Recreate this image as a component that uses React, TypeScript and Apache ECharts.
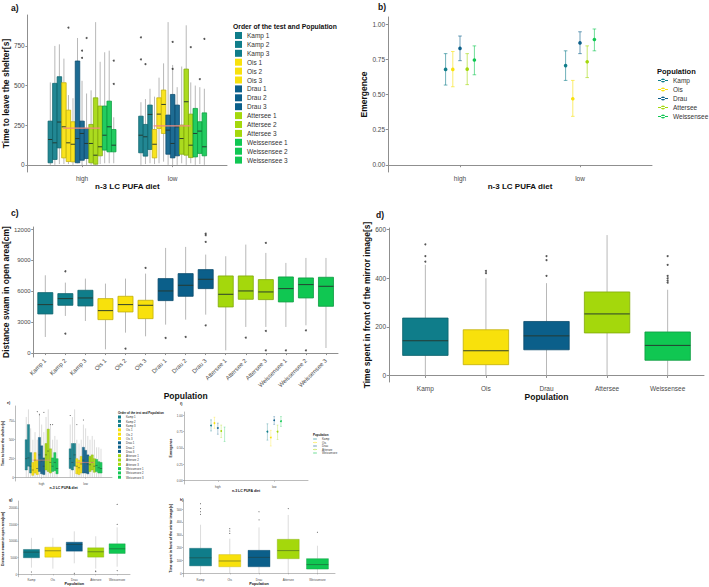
import React, { useEffect, useRef } from "react";
import * as echarts from "echarts";

const POPULATIONS = ["Kamp", "Ois", "Drau", "Attersee", "Weissensee"];
const POP_COLORS = ["#0f7d8a", "#f8e10c", "#0b5f8a", "#a4d80c", "#10c752"];
const GROUPS = [
  "Kamp 1", "Kamp 2", "Kamp 3", "Ois 1", "Ois 2", "Ois 3", "Drau 1", "Drau 2", "Drau 3",
  "Attersee 1", "Attersee 2", "Attersee 3", "Weissensee 1", "Weissensee 2", "Weissensee 3",
];
const DIETS = ["high", "low"];

// a) time to leave shelter [lo, q1, median, q3, hi]
const shelterHigh = [
  [0, 13, 160, 276, 520], [0, 34, 139, 514, 750], [5, 107, 270, 556, 760],
  [5, 44, 240, 518, 670], [5, 21, 139, 345, 440], [0, 19, 130, 272, 420],
  [10, 13, 166, 655, 800], [0, 29, 198, 276, 530], [0, 40, 135, 230, 450],
  [0, 13, 135, 255, 470], [0, 4, 61, 423, 900], [5, 57, 114, 371, 650],
  [10, 93, 187, 371, 710], [10, 82, 240, 402, 720], [10, 82, 124, 223, 300],
];
const shelterLow = [
  [0, 76, 187, 307, 395], [5, 55, 177, 255, 415], [10, 97, 318, 377, 480],
  [5, 44, 130, 223, 430], [10, 229, 320, 423, 550], [20, 198, 381, 472, 640],
  [0, 67, 219, 314, 900], [0, 44, 135, 444, 630], [0, 57, 240, 377, 490],
  [10, 67, 166, 251, 620], [0, 61, 398, 604, 880], [10, 46, 124, 320, 520],
  [0, 50, 198, 356, 500], [5, 72, 213, 272, 490], [0, 57, 114, 328, 480],
];
const shelterOutHigh = [[4, 865], [7, 720], [7, 675], [8, 800], [14, 657], [14, 510]];
const shelterOutLow = [[0, 804], [0, 665], [1, 635], [7, 775], [7, 605], [11, 742], [13, 541], [14, 794]];
const shelterMean = [232, 246];

// b) emergence [mean, lo, hi]
const emergenceHigh = [[0.678, 0.567, 0.79], [0.678, 0.555, 0.805], [0.827, 0.74, 0.915], [0.68, 0.57, 0.79], [0.745, 0.64, 0.845]];
const emergenceLow = [[0.705, 0.6, 0.81], [0.47, 0.345, 0.6], [0.866, 0.79, 0.945], [0.732, 0.62, 0.845], [0.89, 0.81, 0.965]];

// c) distance swam in open area
const distance = [
  [1557, 3794, 4703, 5870, 7556], [3600, 4638, 5286, 5773, 6843], [3113, 4573, 5351, 6097, 7232],
  [357, 3243, 4119, 5286, 6745], [1978, 3989, 4703, 5513, 7232], [1621, 3340, 4638, 5124, 7718],
  [2757, 5092, 6032, 7232, 10215], [3243, 5513, 6583, 7718, 10313], [3730, 6259, 7167, 8108, 9567],
  [259, 4475, 5708, 7491, 9405], [2530, 5221, 6032, 7491, 10540], [2530, 5189, 5935, 7135, 9729],
  [2530, 4962, 6259, 7394, 8756], [2692, 5351, 6648, 7297, 9243], [486, 4540, 6486, 7362, 9243],
];
const distanceOut = [[1, 7946], [1, 1881], [4, 421], [5, 8270], [6, 1459], [7, 1557], [8, 2692], [8, 10800], [8, 11450], [8, 11610],
  [10, 1492], [11, 10702], [11, 2140], [11, 259], [12, 259], [13, 2205], [13, 259]];

// d) time in front of mirror
const mirror = [[0, 83, 143, 236, 454], [0, 45, 102, 188, 399], [0, 106, 163, 222, 379], [0, 175, 253, 343, 576], [0, 63, 124, 179, 352]];
const mirrorOut = [[0, 538], [0, 490], [0, 467], [1, 429], [1, 420], [2, 490], [2, 473], [2, 409], [4, 490], [4, 454], [4, 409], [4, 399], [4, 389], [4, 381]];

// e) second trial shelter
const shelter2High = [
  [0, 100, 250, 500, 800], [0, 150, 260, 700, 900], [0, 60, 150, 330, 650],
  [0, 30, 100, 200, 500], [0, 60, 230, 330, 600], [0, 40, 120, 230, 500],
  [0, 80, 300, 530, 850], [0, 50, 220, 420, 700], [0, 40, 150, 260, 600],
  [0, 100, 300, 450, 800], [0, 80, 350, 640, 900], [0, 60, 200, 380, 700],
  [0, 80, 150, 260, 500], [0, 90, 200, 330, 550], [0, 50, 120, 250, 500],
];
const shelter2Low = [
  [0, 120, 250, 380, 700], [0, 100, 200, 450, 800], [0, 150, 300, 450, 900],
  [0, 50, 150, 250, 500], [0, 40, 130, 230, 450], [0, 60, 180, 280, 500],
  [0, 60, 230, 400, 700], [0, 60, 200, 360, 650], [0, 50, 180, 300, 550],
  [0, 80, 170, 280, 500], [0, 100, 200, 300, 550], [0, 70, 150, 250, 500],
  [0, 80, 160, 240, 400], [0, 60, 130, 210, 400], [0, 60, 120, 200, 380],
];
const shelter2OutHigh = [[5, 870], [6, 830], [8, 860], [11, 700], [12, 700]];
const shelter2OutLow = [[0, 820], [3, 700], [6, 760]];
const shelter2Mean = [230, 200];

// f) second trial emergence
const emergence2High = [[0.845, 0.76, 0.93], [0.88, 0.8, 0.97], [0.805, 0.71, 0.88], [0.76, 0.66, 0.85], [0.71, 0.6, 0.82]];
const emergence2Low = [[0.75, 0.62, 0.87], [0.66, 0.53, 0.77], [0.925, 0.86, 0.98], [0.75, 0.63, 0.85], [0.91, 0.83, 0.98]];

// g) distance second trial
const distance2 = [[2000, 4985, 6657, 7463, 10955], [1700, 5164, 7075, 8150, 10955], [3300, 6955, 8955, 9642, 12925], [1700, 5164, 6776, 7960, 11433], [2290, 6269, 7672, 9164, 14119]];
const distance2Out = [[0, 687], [2, 300], [3, 800], [3, 1000], [4, 15000], [4, 21000], [4, 1100]];

// h) mirror second trial
const mirror2 = [[0, 58, 121, 195, 379], [0, 51, 96, 146, 270], [0, 51, 124, 179, 358], [0, 114, 177, 265, 455], [0, 33, 68, 114, 215]];
const mirror2Out = [[0, 460], [0, 480], [0, 505], [0, 543], [1, 311], [1, 330], [1, 348], [2, 417], [2, 480], [3, 505], [4, 320]];

const WHISKER = "#a6a6a6";
const MEDIAN = "#26382f";
const AXIS = "#8f8f8f";
const FONT = "Liberation Sans, Arial, sans-serif";

function darken(hex: string, f = 0.78) {
  const n = parseInt((hex || "#888888").slice(1), 16);
  const r = Math.round(((n >> 16) & 255) * f);
  const g = Math.round(((n >> 8) & 255) * f);
  const b = Math.round((n & 255) * f);
  return `rgb(${r},${g},${b})`;
}

const popOf = (i: number) => Math.floor(i / 3);
const dodge = (i: number, n: number, total: number) => -total / 2 + (total / n) * (i + 0.5);

const BOX_DIMS = ["x", "lo", "q1", "med", "q3", "hi", "c"];
const ERR_DIMS = ["x", "m", "lo", "hi"];

function boxRenderer(width: number, lw: number, opacity = 1) {
  return (_p: any, api: any) => {
    const x = api.value(0);
    const ci = Math.round(api.value(6));
    const fill = POP_COLORS[ci] || "#888888";
    const pLo = api.coord([x, api.value(1)]);
    const pQ1 = api.coord([x, api.value(2)]);
    const pMed = api.coord([x, api.value(3)]);
    const pQ3 = api.coord([x, api.value(4)]);
    const pHi = api.coord([x, api.value(5)]);
    const half = api.size([width, 0])[0] / 2;
    return {
      type: "group",
      children: [
        { type: "line", shape: { x1: pHi[0], y1: pHi[1], x2: pQ3[0], y2: pQ3[1] }, style: { stroke: WHISKER, lineWidth: lw } },
        { type: "line", shape: { x1: pQ1[0], y1: pQ1[1], x2: pLo[0], y2: pLo[1] }, style: { stroke: WHISKER, lineWidth: lw } },
        { type: "rect", shape: { x: pQ3[0] - half, y: pQ3[1], width: half * 2, height: pQ1[1] - pQ3[1] }, style: { fill, stroke: darken(fill), lineWidth: lw, opacity } },
        { type: "line", shape: { x1: pMed[0] - half, y1: pMed[1], x2: pMed[0] + half, y2: pMed[1] }, style: { stroke: MEDIAN, lineWidth: lw * 1.2 } },
      ],
    };
  };
}

function errRenderer(color: string, cap: number, r: number, lw: number) {
  return (_p: any, api: any) => {
    const x = api.value(0);
    const pm = api.coord([x, api.value(1)]);
    const pl = api.coord([x, api.value(2)]);
    const ph = api.coord([x, api.value(3)]);
    const st = { stroke: color, lineWidth: lw, opacity: 0.6 };
    return {
      type: "group",
      children: [
        { type: "line", shape: { x1: pl[0], y1: pl[1], x2: ph[0], y2: ph[1] }, style: st },
        { type: "line", shape: { x1: pl[0] - cap, y1: pl[1], x2: pl[0] + cap, y2: pl[1] }, style: st },
        { type: "line", shape: { x1: ph[0] - cap, y1: ph[1], x2: ph[0] + cap, y2: ph[1] }, style: st },
        { type: "circle", shape: { cx: pm[0], cy: pm[1], r }, style: { fill: color } },
      ],
    };
  };
}

function xCat(grid: number, cats: string[], fs: number, name: string, nameFs: number, nameGap: number, rotate = 0, lw = 1) {
  const vals = cats.map((_, i) => i + 1);
  return {
    gridIndex: grid, type: "value", min: 0.4, max: cats.length + 0.6,
    axisLine: { show: true, lineStyle: { color: AXIS, width: lw } },
    axisTick: { show: true, length: fs * 0.35, customValues: vals, lineStyle: { color: AXIS, width: lw } },
    axisLabel: { customValues: vals, formatter: (v: number) => cats[Math.round(v) - 1] ?? "", fontSize: fs, color: "#4a4a4a", margin: fs * 0.45, rotate },
    splitLine: { show: false },
    name, nameLocation: "middle", nameGap,
    nameTextStyle: { fontSize: nameFs, fontWeight: "bold", color: "#111" },
  };
}

function yVal(grid: number, min: number, max: number, ticks: number[], fs: number, name: string, nameFs: number, nameGap: number, dec = 0, lw = 1) {
  return {
    gridIndex: grid, type: "value", min, max,
    axisLine: { show: true, lineStyle: { color: AXIS, width: lw } },
    axisTick: { show: true, length: fs * 0.35, customValues: ticks, lineStyle: { color: AXIS, width: lw } },
    axisLabel: { customValues: ticks, formatter: (v: number) => v.toFixed(dec), fontSize: fs, color: "#4a4a4a", margin: fs * 0.45 },
    splitLine: { show: false },
    name, nameLocation: "middle", nameGap,
    nameTextStyle: { fontSize: nameFs, fontWeight: "bold", color: "#111" },
  };
}

const ENC = { x: 0, y: [1, 2, 3, 4, 5] };

function shelterSeries(axis: number, high: number[][], low: number[][], lw: number) {
  return GROUPS.map((g, i) => ({
    type: "custom", name: g, xAxisIndex: axis, yAxisIndex: axis,
    itemStyle: { color: POP_COLORS[popOf(i)] },
    dimensions: BOX_DIMS,
    renderItem: boxRenderer(0.05, lw, 0.92), encode: ENC,
    data: [
      [1 + dodge(i, 15, 0.75), ...high[i], popOf(i)],
      [2 + dodge(i, 15, 0.75), ...low[i], popOf(i)],
    ],
  }));
}

function outlierSeries(axis: number, pts: number[][], xOf: (g: number) => number, size: number) {
  return {
    type: "scatter", xAxisIndex: axis, yAxisIndex: axis, symbolSize: size, silent: true,
    itemStyle: { color: "#2b2b2b" },
    data: pts.map(([g, v]) => [xOf(g), v]),
  };
}

function meanSeries(axis: number, means: number[], lw: number) {
  return means.map((m, d) => ({
    type: "line", xAxisIndex: axis, yAxisIndex: axis, symbol: "none", silent: true,
    lineStyle: { color: "#f08c80", width: lw },
    data: [[d + 1 - 0.21, m], [d + 1 + 0.2, m]],
  }));
}

function emergenceSeries(axis: number, high: number[][], low: number[][], cap: number, r: number, lw: number) {
  return POPULATIONS.map((p, k) => ({
    type: "custom", name: p, xAxisIndex: axis, yAxisIndex: axis,
    itemStyle: { color: POP_COLORS[k] },
    dimensions: ERR_DIMS,
    renderItem: errRenderer(POP_COLORS[k], cap, r, lw), encode: { x: 0, y: [1, 2, 3] },
    data: [
      [1 + dodge(k, 5, 0.3), ...high[k]],
      [2 + dodge(k, 5, 0.3), ...low[k]],
    ],
  }));
}

function popBoxSeries(axis: number, vals: number[][], lw: number, colorOf: (i: number) => number) {
  return {
    type: "custom", xAxisIndex: axis, yAxisIndex: axis,
    dimensions: BOX_DIMS,
    renderItem: boxRenderer(0.75, lw), encode: ENC,
    data: vals.map((v, i) => [i + 1, ...v, colorOf(i)]),
  };
}

const PR_ICON = "path://M0,4.4h12v1.2h-12z M3.5,5a2.5,2.5 0 1,0 5,0a2.5,2.5 0 1,0 -5,0z";

function txt(x: number, y: number, text: string, fs: number, bold = true) {
  return { type: "text", x, y, silent: true, style: { text, fontSize: fs, fontWeight: bold ? "bold" : "normal", fill: "#111", fontFamily: FONT, verticalAlign: "middle", align: "left" } };
}

export default function App() {
  const ref = useRef<HTMLDivElement>(null);
  useEffect(() => {
    if (!ref.current) return;
    const chart = echarts.init(ref.current, undefined, { renderer: "svg" });
    const ident = (i: number) => i;
    const option: any = {
      animation: false,
      backgroundColor: "#ffffff",
      textStyle: { fontFamily: FONT },
      grid: [
        { left: 25, top: 15, width: 202, height: 157 },
        { left: 388, top: 17, width: 264, height: 155 },
        { left: 29, top: 227, width: 309, height: 130 },
        { left: 389, top: 228, width: 315, height: 154 },
        { left: 13, top: 406, width: 99, height: 75 },
        { left: 184, top: 412, width: 124, height: 72 },
        { left: 17, top: 501, width: 113, height: 77 },
        { left: 183, top: 500, width: 152, height: 79 },
      ],
      xAxis: [
        xCat(0, DIETS, 6.5, "n-3 LC PUFA diet", 8, 7),
        xCat(1, DIETS, 6.5, "n-3 LC PUFA diet", 8, 7),
        xCat(2, GROUPS, 6, "Population", 8.5, 32, 45),
        xCat(3, POPULATIONS, 6.5, "Population", 8.5, 9),
        xCat(4, DIETS, 3, "n-3 LC PUFA diet", 3.5, 3.5, 0, 0.6),
        xCat(5, DIETS, 3, "n-3 LC PUFA diet", 3.5, 3, 0, 0.6),
        xCat(6, POPULATIONS, 3, "Population", 3.8, 3.5, 0, 0.6),
        xCat(7, POPULATIONS, 3, "Population", 3.8, 3.5, 0, 0.6),
      ],
      yAxis: [
        yVal(0, -45, 945, [0, 250, 500, 750], 6.5, "Time to leave the shelter[s]", 8.5, 11),
        yVal(1, -0.05, 1.05, [0, 0.25, 0.5, 0.75, 1], 6.5, "Emergence", 8.5, 15, 2),
        yVal(2, -390, 12250, [0, 3000, 6000, 9000, 12000], 6, "Distance swam in open area[cm]", 8.5, 17),
        yVal(3, -26, 605, [0, 200, 400, 600], 6.5, "Time spent in front of the mirror image[s]", 8.5, 15),
        yVal(4, -45, 945, [0, 250, 500, 750], 3, "Time to leave the shelter[s]", 3.5, 6, 0, 0.6),
        yVal(5, -0.05, 1.05, [0, 0.25, 0.5, 0.75, 1], 3, "Emergence", 3.5, 10, 2, 0.6),
        yVal(6, -735, 22035, [0, 5000, 10000, 15000, 20000], 3, "Distance swam in open area[cm]", 3.5, 9, 0, 0.6),
        yVal(7, -27, 572, [0, 100, 200, 300, 400, 500], 3, "Time spent in front of the mirror image[s]", 3.5, 5, 0, 0.6),
      ],
      legend: [
        {
          left: 235, top: 32, orient: "vertical", itemWidth: 7, itemHeight: 7, itemGap: 1.9, icon: "rect", padding: 0,
          selectedMode: false, data: GROUPS, textStyle: { fontSize: 6.5, lineHeight: 7, color: "#333" },
        },
        {
          left: 658, top: 77, orient: "vertical", itemWidth: 10, itemHeight: 7, itemGap: 2, icon: PR_ICON, padding: 0,
          selectedMode: false, data: POPULATIONS, textStyle: { fontSize: 6.5, lineHeight: 7, color: "#333" },
        },
        {
          left: 118, top: 415.5, orient: "vertical", itemWidth: 3, itemHeight: 3, itemGap: 1.3, icon: "rect", padding: 0,
          selectedMode: false, data: GROUPS, textStyle: { fontSize: 2.8, lineHeight: 3, color: "#333" },
        },
        {
          left: 313, top: 437.5, orient: "vertical", itemWidth: 4, itemHeight: 3, itemGap: 0.5, icon: PR_ICON, padding: 0,
          selectedMode: false, data: POPULATIONS, textStyle: { fontSize: 2.8, lineHeight: 3, color: "#333" },
        },
      ],
      graphic: [
        txt(11, 8, "a)", 8.5), txt(378, 7, "b)", 8.5), txt(11, 213, "c)", 8.5), txt(376, 215, "d)", 8.5),
        txt(7, 403, "e)", 3.5), txt(180, 404, "f)", 3.5), txt(9, 500, "g)", 3.5), txt(180, 500, "h)", 3.5),
        txt(233, 26, "Order of the test and Population", 6.8),
        txt(657, 71, "Population", 7.5),
        txt(118, 413, "Order of the test and Population", 3),
        txt(313, 435, "Population", 3),
      ],
      series: [
        ...shelterSeries(0, shelterHigh, shelterLow, 0.8),
        outlierSeries(0, shelterOutHigh, (g) => 1 + dodge(g, 15, 0.75), 2),
        outlierSeries(0, shelterOutLow, (g) => 2 + dodge(g, 15, 0.75), 2),
        ...meanSeries(0, shelterMean, 1.2),
        ...emergenceSeries(1, emergenceHigh, emergenceLow, 1.8, 1.8, 1),
        popBoxSeries(2, distance, 0.8, popOf),
        outlierSeries(2, distanceOut, (g) => g + 1, 2),
        popBoxSeries(3, mirror, 0.8, ident),
        outlierSeries(3, mirrorOut, (g) => g + 1, 2),
        ...shelterSeries(4, shelter2High, shelter2Low, 0.4),
        outlierSeries(4, shelter2OutHigh, (g) => 1 + dodge(g, 15, 0.75), 1),
        outlierSeries(4, shelter2OutLow, (g) => 2 + dodge(g, 15, 0.75), 1),
        ...meanSeries(4, shelter2Mean, 0.6),
        ...emergenceSeries(5, emergence2High, emergence2Low, 0.9, 0.9, 0.5),
        popBoxSeries(6, distance2, 0.4, ident),
        outlierSeries(6, distance2Out, (g) => g + 1, 1),
        popBoxSeries(7, mirror2, 0.4, ident),
        outlierSeries(7, mirror2Out, (g) => g + 1, 1),
      ],
    };
    chart.setOption(option);
    return () => chart.dispose();
  }, []);
  return <div ref={ref} style={{ position: "absolute", left: 0, top: 0, width: 709, height: 587 }} />;
}
